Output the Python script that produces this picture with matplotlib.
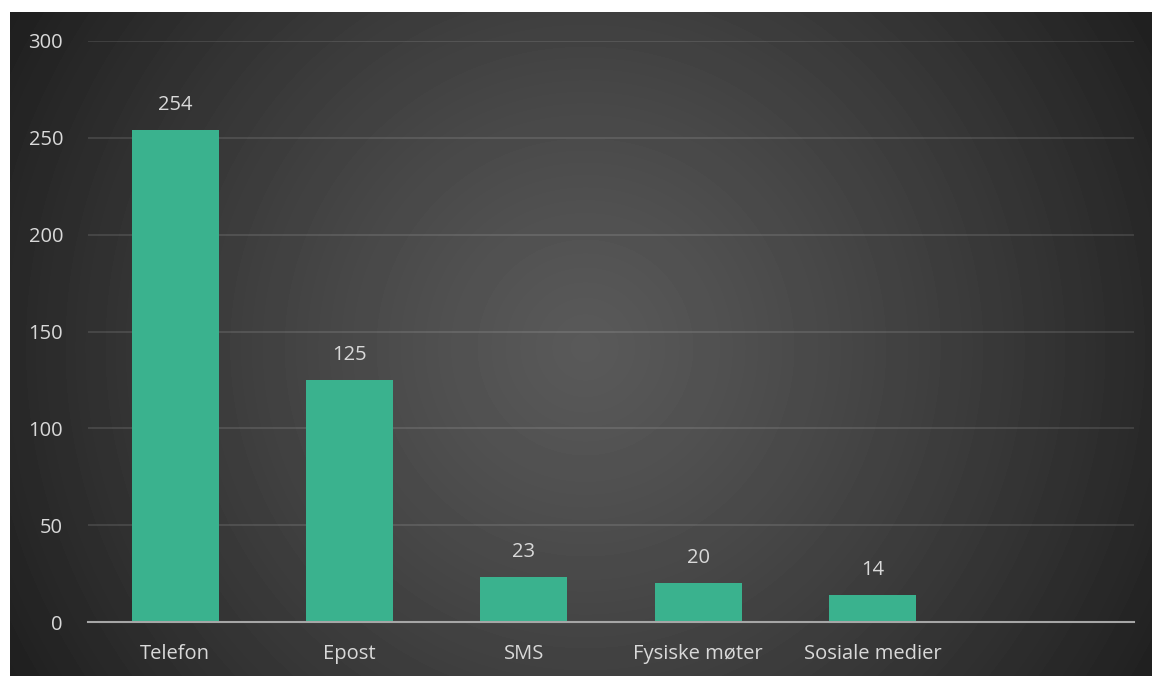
import numpy as np
import matplotlib.pyplot as plt

categories = ['Telefon', 'Epost', 'SMS', 'Fysiske møter', 'Sosiale medier', '']
values = [254, 125, 23, 20, 14, None]
yticks = [0, 50, 100, 150, 200, 250, 300]

plt.rcParams['font.family'] = ['Open Sans', 'DejaVu Sans']
txt = '#d9d9d9'
bar_col = '#3ab28e'

fig = plt.figure(figsize=(11.52, 6.76), dpi=100, facecolor='white')

# dark radial background
bg = fig.add_axes([10 / 1152, 0, 1142 / 1152, 664 / 676])
bg.set_axis_off()
w, h = 1142, 664
yy, xx = np.mgrid[0:h, 0:w]
r = np.sqrt((xx - 575) ** 2 + (yy - 335) ** 2)
shade = 0.35 - (0.35 - 0.115) * np.clip(r / 680, 0, 1) ** 1.2
bg.imshow(shade, cmap='gray', vmin=0, vmax=1, aspect='auto',
          extent=(0, w, h, 0), interpolation='bilinear')

ax = fig.add_axes([88 / 1152, 54 / 676, 1046 / 1152, 581 / 676])
ax.patch.set_alpha(0)

x = np.arange(len(categories))
vals = [v if v is not None else 0 for v in values]
bars = ax.bar(x[:5], vals[:5], width=0.5, color=bar_col, zorder=3)
for xi, v in zip(x[:5], vals[:5]):
    ax.annotate(str(v), (xi, v), xytext=(0, 11), textcoords='offset points',
                ha='center', va='bottom', color=txt, fontsize=14.5)

ax.set_xlim(-0.5, 5.5)
ax.set_ylim(0, 300)
ax.set_yticks(yticks)
ax.set_xticks(x)
ax.set_xticklabels(categories)
ax.tick_params(axis='both', length=0, colors=txt, labelsize=14.5)
ax.tick_params(axis='y', pad=18)
ax.tick_params(axis='x', pad=16)
ax.grid(axis='y', color='white', alpha=0.13, linewidth=1.2, zorder=0)
for s in ['top', 'right', 'left']:
    ax.spines[s].set_visible(False)
ax.spines['bottom'].set_color('#a6a6a6')
ax.spines['bottom'].set_linewidth(1.5)
ax.spines['bottom'].set_zorder(4)

fig.savefig('out.png', dpi=100, facecolor='white')
